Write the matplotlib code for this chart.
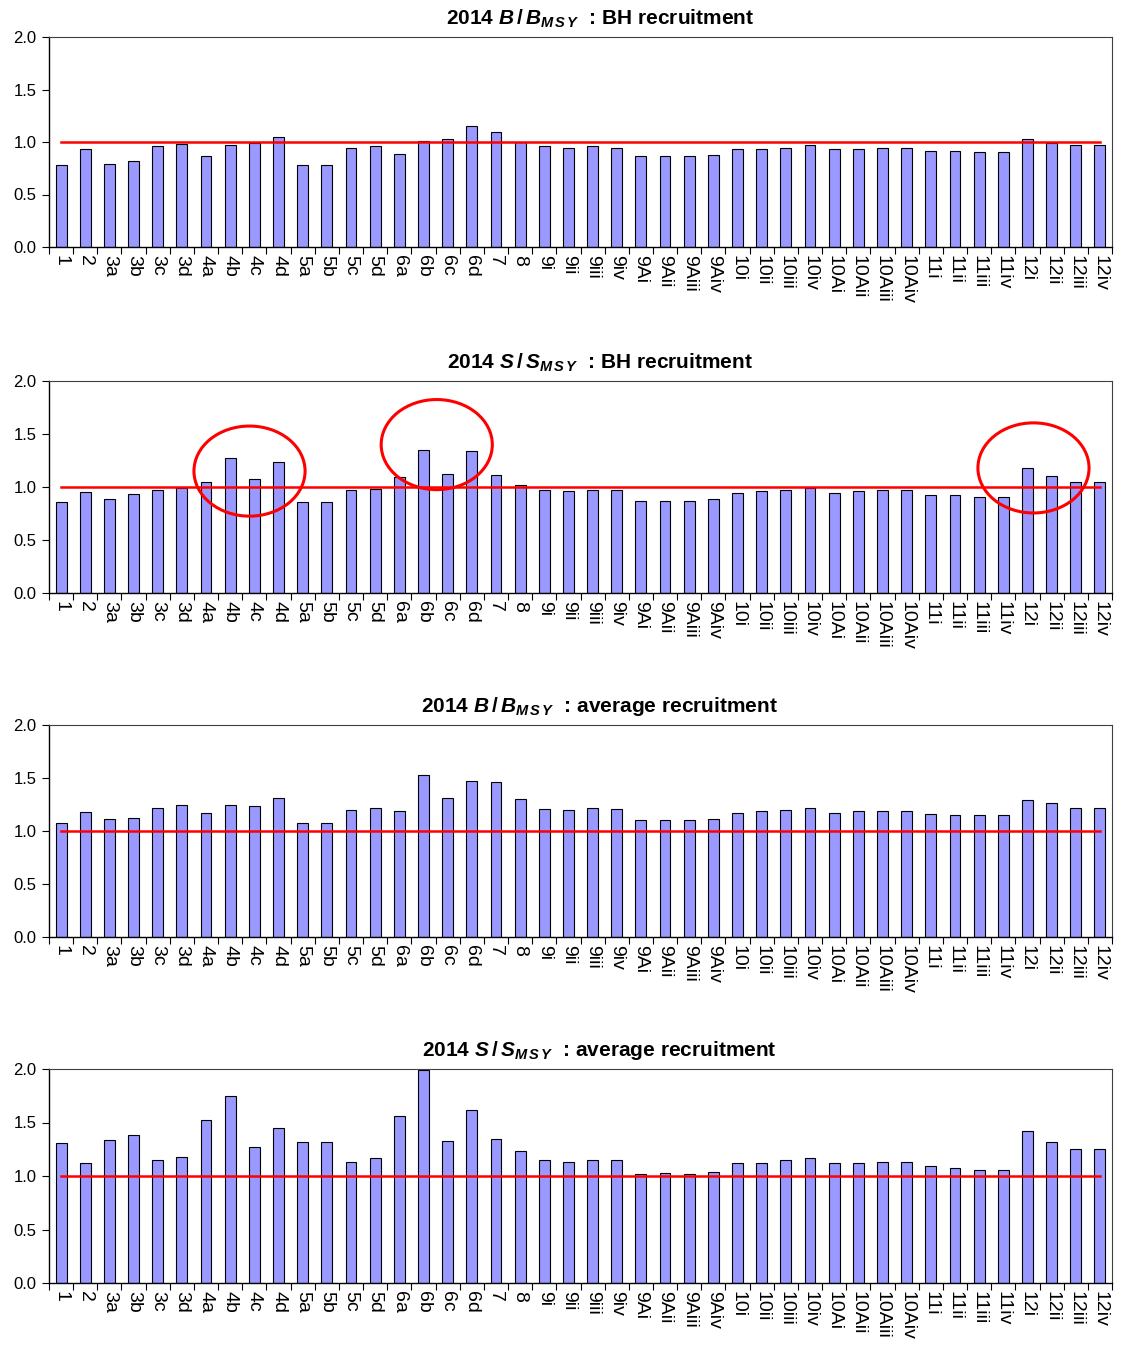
import numpy as np
import matplotlib
matplotlib.use("Agg")
import matplotlib.pyplot as plt
from matplotlib.patches import Ellipse

plt.rcParams["font.family"] = ["Liberation Sans", "DejaVu Sans"]
plt.rcParams["mathtext.fontset"] = "custom"
plt.rcParams["mathtext.rm"] = "Liberation Sans:bold"
plt.rcParams["mathtext.it"] = "Liberation Sans:italic:bold"
plt.rcParams["mathtext.bf"] = "Liberation Sans:bold"

zones = ["1", "2", "3a", "3b", "3c", "3d", "4a", "4b", "4c", "4d", "5a", "5b",
         "5c", "5d", "6a", "6b", "6c", "6d", "7", "8", "9i", "9ii", "9iii", "9iv",
         "9Ai", "9Aii", "9Aiii", "9Aiv", "10i", "10ii", "10iii", "10iv", "10Ai",
         "10Aii", "10Aiii", "10Aiv", "11i", "11ii", "11iii", "11iv", "12i", "12ii",
         "12iii", "12iv"]

# B/Bmsy, Beverton-Holt recruitment
b_bh = [0.78, 0.93, 0.79, 0.82, 0.96, 0.98, 0.87, 0.97, 0.99, 1.05, 0.78, 0.78,
        0.94, 0.96, 0.89, 1.01, 1.03, 1.15, 1.10, 1.00, 0.96, 0.94, 0.96, 0.94,
        0.87, 0.87, 0.87, 0.88, 0.93, 0.93, 0.94, 0.97, 0.93, 0.93, 0.94, 0.94,
        0.91, 0.91, 0.905, 0.905, 1.03, 0.99, 0.97, 0.97]

# S/Smsy, Beverton-Holt recruitment
s_bh = [0.86, 0.95, 0.89, 0.93, 0.97, 0.995, 1.05, 1.27, 1.08, 1.24, 0.86, 0.86,
        0.97, 0.98, 1.09, 1.35, 1.12, 1.34, 1.11, 1.02, 0.97, 0.96, 0.97, 0.97,
        0.87, 0.87, 0.87, 0.885, 0.945, 0.96, 0.97, 0.995, 0.945, 0.96, 0.97, 0.97,
        0.92, 0.92, 0.91, 0.91, 1.18, 1.105, 1.045, 1.045]

# B/Bmsy, average recruitment
b_avg = [1.08, 1.18, 1.11, 1.12, 1.22, 1.25, 1.17, 1.25, 1.24, 1.31, 1.08, 1.08,
         1.20, 1.22, 1.19, 1.53, 1.31, 1.47, 1.46, 1.30, 1.21, 1.20, 1.22, 1.21,
         1.10, 1.10, 1.10, 1.11, 1.17, 1.19, 1.20, 1.22, 1.17, 1.19, 1.19, 1.19,
         1.16, 1.15, 1.15, 1.15, 1.29, 1.26, 1.22, 1.22]

# S/Smsy, average recruitment
s_avg = [1.305, 1.12, 1.34, 1.38, 1.15, 1.18, 1.52, 1.745, 1.27, 1.45, 1.32, 1.32,
         1.13, 1.17, 1.56, 1.99, 1.33, 1.62, 1.35, 1.23, 1.15, 1.13, 1.15, 1.15,
         1.02, 1.03, 1.02, 1.04, 1.12, 1.12, 1.15, 1.17, 1.12, 1.12, 1.13, 1.13,
         1.09, 1.075, 1.06, 1.06, 1.42, 1.32, 1.25, 1.25]

titles = [r"2014 $B\,/\,B_{M\,S\,Y}\ $ : BH recruitment",
          r"2014 $S\,/\,S_{M\,S\,Y}\ $ : BH recruitment",
          r"2014 $B\,/\,B_{M\,S\,Y}\ $ : average recruitment",
          r"2014 $S\,/\,S_{M\,S\,Y}\ $ : average recruitment"]
series = [b_bh, s_bh, b_avg, s_avg]

# highlighted groups on the S/Smsy BH panel: (centre zone index, centre value)
circles = [(7.8, 1.15), (15.55, 1.40), (40.25, 1.18)]

fig = plt.figure(figsize=(11.29, 13.52), dpi=100)
W, H = 1129, 1352
panels = [(37, 247), (381, 593), (725, 937), (1069, 1283)]
left, right = 49, 1112

x = np.arange(len(zones))
for k, (top, bottom) in enumerate(panels):
    ax = fig.add_axes([left / W, 1 - bottom / H, (right - left) / W, (bottom - top) / H])
    ax.bar(x, series[k], width=0.45, color="#9999FF", edgecolor="black", linewidth=0.8, zorder=2)
    ax.plot([x[0], x[-1]], [1.0, 1.0], color="#FF0000", linewidth=1.8, zorder=3)
    ax.set_xlim(-0.5, len(zones) - 0.5)
    ax.set_ylim(0, 2.0)
    ax.set_yticks([0, 0.5, 1.0, 1.5, 2.0])
    ax.set_yticklabels(["0.0", "0.5", "1.0", "1.5", "2.0"], fontsize=12)
    ax.set_xticks(np.arange(-0.5, len(zones), 1.0))
    ax.set_xticklabels([])
    ax.set_xticks(x, minor=True)
    ax.set_xticklabels(zones, minor=True, rotation=-90, fontsize=14, va="top", ha="center")
    ax.tick_params(axis="x", which="major", direction="out", length=5, width=0.8)
    ax.tick_params(axis="x", which="minor", length=0, pad=6)
    ax.tick_params(axis="y", direction="out", length=5, width=0.8, pad=4)
    for s in ["left", "bottom"]:
        ax.spines[s].set_color("black")
        ax.spines[s].set_linewidth(1.0)
    for s in ["top", "right"]:
        ax.spines[s].set_color("#404040")
        ax.spines[s].set_linewidth(0.8)
    ax.text(0.518, 1.0 + 18 / (bottom - top), titles[k], transform=ax.transAxes,
            ha="center", va="center", fontsize=15, fontweight="bold")
    if k == 1:
        for cx, cy in circles:
            ax.add_patch(Ellipse((cx, cy), width=4.6, height=0.85, fill=False,
                                 edgecolor="#FF0000", linewidth=2.2, zorder=4))

fig.savefig("out.png", dpi=100)
